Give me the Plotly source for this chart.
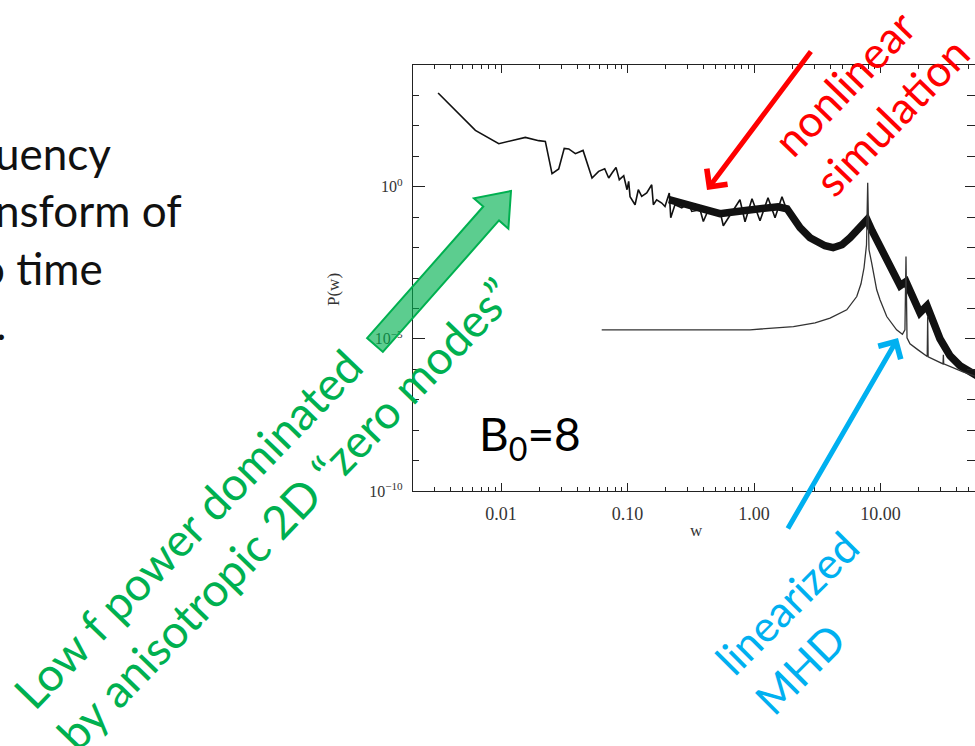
import math
import plotly.graph_objects as go

# ---------------- data ----------------
# nonlinear simulation, low-frequency thin / noisy part
lowf_w = [0.00318, 0.00627, 0.0096, 0.01556, 0.01986, 0.0224, 0.0253, 0.02857, 0.0316, 0.0343,
          0.0387, 0.0445, 0.0524, 0.0591, 0.066, 0.0710, 0.0754, 0.0811, 0.0861, 0.0933,
          0.0991, 0.1021, 0.1047, 0.1147, 0.1217, 0.1294, 0.1418, 0.1553, 0.160, 0.170,
          0.1864, 0.1978, 0.2138, 0.2196, 0.237, 0.2684, 0.3029, 0.322, 0.3745, 0.3975,
          0.4355, 0.5387, 0.5718, 0.6857, 0.774, 0.849, 0.964, 1.115, 1.29, 1.466,
          1.664, 1.858]
lowf_p = [1200, 71, 26, 41.9, 32.6, 30.9, 2.68, 3.82, 18.2, 17.4,
          12.2, 15.6, 1.93, 3.19, 3.91, 1.93, 2.82, 4.31, 1.70, 2.30,
          0.797, 1.49, 0.469, 0.256, 0.797, 0.48, 0.621, 1.16, 0.256, 0.373,
          0.291, 0.225, 0.621, 0.0955, 0.256, 0.204, 0.291, 0.154, 0.175, 0.0722,
          0.175, 0.154, 0.0521, 0.175, 0.374, 0.0708, 0.403, 0.0763, 0.435, 0.0958,
          0.469, 0.1297]

# nonlinear simulation, dense (thick) part
band_w = [0.2128, 0.312, 0.410, 0.538, 0.708, 0.929, 1.222, 1.548, 1.823, 1.997,
          2.31, 2.77, 3.15, 3.64, 4.22, 4.96, 5.74, 6.52, 7.14, 7.82,
          8.57, 9.91, 11.9, 14.3, 15.9, 18.1, 20.5, 23.3, 26.0, 29.5,
          35.4, 42.5, 60.0]
band_p = [0.374, 0.2375, 0.189, 0.1297, 0.151, 0.1754, 0.204, 0.220, 0.189, 0.1114,
          0.0450, 0.0211, 0.0156, 0.0115, 0.00989, 0.0124, 0.0211, 0.0358, 0.0564, 0.0824,
          0.0358, 0.0115, 0.00254, 5.58e-4, 7.55e-4, 1.94e-4, 7.23e-5, 1.23e-4, 3.40e-5, 1.01e-5,
          2.79e-6, 1.31e-6, 5.6e-7]

# linearized MHD
lin_w = [0.0625, 0.929, 2.05, 3.04, 3.99, 5.41, 6.49, 7.01, 7.41, 7.75,
         7.92, 8.11, 8.52, 9.33, 9.91, 11.2, 13.4, 14.9, 15.6, 15.9,
         16.2, 17.1, 19.8, 23.4, 23.6, 23.8, 31.2, 31.4, 31.6, 44.9, 61.2]
lin_p = [1.98e-5, 1.98e-5, 2.54e-5, 3.36e-5, 4.8e-5, 9.0e-5, 2.46e-4, 6.45e-4, 2.17e-3, 0.0124,
         1.35, 8.47e-3, 3.09e-3, 4.09e-4, 1.92e-4, 5.42e-5, 1.98e-5, 1.41e-5, 1.98e-5, 5.1e-3,
         1.08e-5, 6.85e-6, 4.35e-6, 2.62e-6, 5.42e-5, 2.56e-6, 1.5e-6, 2.98e-6, 1.5e-6, 8.2e-7, 5.2e-7]

x_tickvals = [0.01, 0.1, 1, 10]
x_ticktext = ["0.01", "0.10", "1.00", "10.00"]
y_tickvals = [1e-10, 1e-5, 1]
y_ticktext = ["10<sup>\u221210</sup>", "10<sup>\u22125</sup>", "10<sup>0</sup>"]

# ---------------- layout helpers ----------------
W, H = 975, 746
L, R, T, B = 413, 975, 65, 491


def px(x):
    return (x - L) / (R - L)


def py(y):
    return (B - y) / (B - T)


x_minor = [m * 10 ** d for d in range(-3, 2) for m in range(2, 10)]
y_minor = [10.0 ** k for k in range(-10, 5) if k not in (-10, -5, 0)]

fig = go.Figure()
fig.add_trace(go.Scatter(x=lowf_w, y=lowf_p, mode="lines",
                         line=dict(color="#111111", width=1.6), hoverinfo="skip"))
fig.add_trace(go.Scatter(x=band_w, y=band_p, mode="lines",
                         line=dict(color="#111111", width=7.5), hoverinfo="skip"))
fig.add_trace(go.Scatter(x=lin_w, y=lin_p, mode="lines",
                         line=dict(color="#333333", width=1.3), hoverinfo="skip"))
# invisible trace for the right-hand tick axis
fig.add_trace(go.Scatter(x=[1], y=[1], yaxis="y2", mode="markers",
                         marker=dict(opacity=0), hoverinfo="skip"))

tick_font_x = dict(family="Liberation Serif", size=18, color="#333333")
tick_font_y = dict(family="Liberation Serif", size=16, color="#333333")

fig.update_layout(
    width=W, height=H,
    margin=dict(l=L, r=W - R, t=T, b=H - B, pad=0),
    paper_bgcolor="white", plot_bgcolor="white",
    showlegend=False,
    xaxis=dict(type="log", range=[-2.696, 1.747], showgrid=False, zeroline=False,
               showline=True, linecolor="#222222", linewidth=1.2, mirror="ticks",
               ticks="inside", ticklen=8, tickwidth=1, tickcolor="#222222",
               tickvals=x_tickvals, ticktext=x_ticktext, tickfont=tick_font_x,
               ticklabelstandoff=6,
               minor=dict(tickvals=x_minor, ticks="inside", ticklen=4,
                          tickcolor="#222222", tickwidth=1)),
    yaxis=dict(type="log", range=[-10, 4], showgrid=False, zeroline=False,
               showline=True, linecolor="#222222", linewidth=1.2, mirror=False,
               ticks="inside", ticklen=12, tickwidth=1, tickcolor="#222222",
               tickvals=y_tickvals, ticktext=y_ticktext, tickfont=tick_font_y,
               ticklabelstandoff=6,
               minor=dict(tickvals=y_minor, ticks="inside", ticklen=6,
                          tickcolor="#222222", tickwidth=1)),
    yaxis2=dict(type="log", range=[-10, 4], overlaying="y", side="right",
                showgrid=False, zeroline=False, showline=False,
                ticks="inside", ticklen=10, tickwidth=1, tickcolor="#222222",
                tickvals=y_tickvals, showticklabels=False,
                minor=dict(tickvals=y_minor, ticks="inside", ticklen=8,
                           tickcolor="#222222", tickwidth=1)),
)

ann = []
serif = "Liberation Serif"
ann.append(dict(x=px(333), y=py(290), text="P(w)", textangle=-90, showarrow=False,
                font=dict(family=serif, size=17, color="#333333")))
ann.append(dict(x=px(696), y=py(530), text="w", showarrow=False,
                font=dict(family=serif, size=17, color="#333333")))

slide_font = "Lato"
fs = 44
left_lines = [("uency", -7, 168), ("nsform of", -7, 225), ("o time", -22, 283), (".", -6, 338)]
for txt, x0, base in left_lines:
    ann.append(dict(x=px(x0), y=py(base - 0.33 * fs), xanchor="left", yanchor="middle",
                    text=txt, showarrow=False,
                    font=dict(family=slide_font, size=fs, color="#111111")))

ann.append(dict(x=px(530), y=py(437), text="B<sub>0</sub>=8", showarrow=False,
                font=dict(family=slide_font, size=46, color="#000000")))

ann.append(dict(x=px(263), y=py(493), textangle=-46, align="left", showarrow=False,
                text="Low f power dominated<br>by anisotropic 2D \u201czero modes\u201d",
                font=dict(family=slide_font, size=46, color="#00B050")))
ann.append(dict(x=px(870), y=py(96), textangle=-46, align="left", showarrow=False,
                text="nonlinear<br>simulation",
                font=dict(family=slide_font, size=44, color="#FF0000")))
ann.append(dict(x=px(806), y=py(622), textangle=-45, align="left", showarrow=False,
                text="linearized<br>MHD",
                font=dict(family=slide_font, size=43, color="#00B0F0")))

for a in ann:
    a.setdefault("xanchor", "center")
    a.setdefault("yanchor", "middle")

# red and cyan arrows
ann.append(dict(x=px(707), y=py(190), text="",
                showarrow=True, ax=812 - 707, ay=50 - 190, arrowhead=4,
                arrowsize=1, arrowwidth=5, arrowcolor="#FF0000"))
ann.append(dict(x=px(898), y=py(338), text="",
                showarrow=True, ax=787 - 898, ay=530 - 338, arrowhead=4,
                arrowsize=1, arrowwidth=5, arrowcolor="#00B0F0"))
for a in ann:
    a.setdefault("xref", "paper")
    a.setdefault("yref", "paper")
fig.update_layout(annotations=ann)

# green block arrow (decoration)
tx, ty = 375, 345
hx, hy = 511, 191
dx, dy = hx - tx, hy - ty
ln = math.hypot(dx, dy)
ux, uy = dx / ln, dy / ln
vx, vy = -uy, ux
sw, hw, hl = 10.5, 23, 30
bx, by = hx - ux * hl, hy - uy * hl
pts = [(tx + vx * sw, ty + vy * sw), (bx + vx * sw, by + vy * sw), (bx + vx * hw, by + vy * hw),
       (hx, hy), (bx - vx * hw, by - vy * hw), (bx - vx * sw, by - vy * sw),
       (tx - vx * sw, ty - vy * sw)]
path = "M " + " L ".join(f"{px(x):.5f},{py(y):.5f}" for x, y in pts) + " Z"
fig.add_shape(type="path", path=path, xref="paper", yref="paper",
              fillcolor="rgba(0,176,80,0.64)", line=dict(color="#00B050", width=2),
              layer="above")

fig.write_html("out.html")
